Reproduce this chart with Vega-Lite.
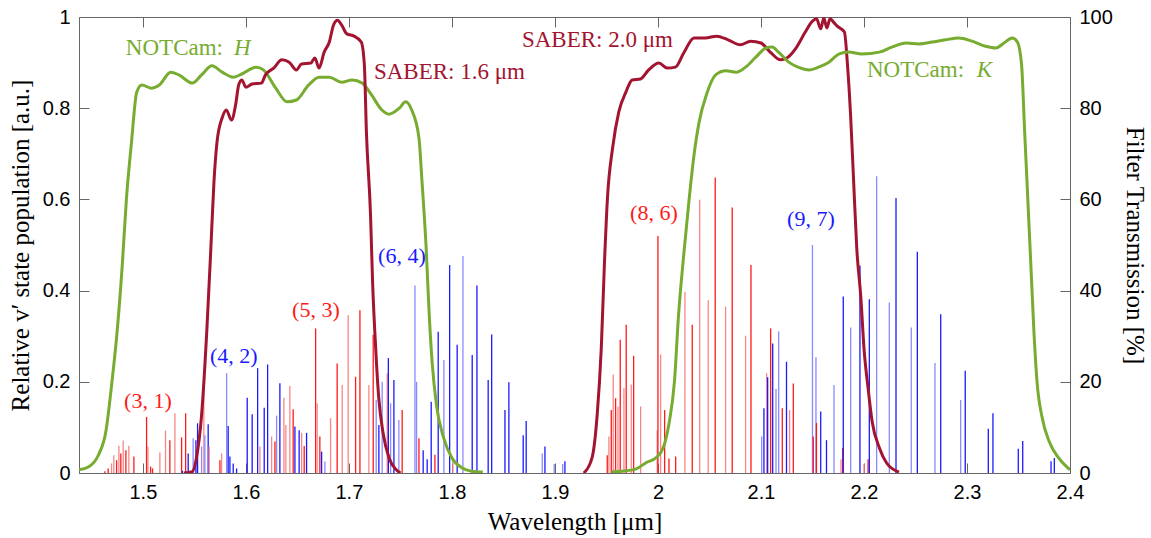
{
  "$schema": "https://vega.github.io/schema/vega-lite/v6.json",
  "width": 991,
  "height": 456,
  "autosize": {"type": "none"},
  "padding": {"left": 79, "top": 17, "right": 81, "bottom": 65},
  "background": "white",
  "config": {
    "view": {"stroke": "#666666", "strokeWidth": 1},
    "axis": {
      "domain": false, "grid": false, "ticks": true, "tickColor": "#666666", "tickSize": -10, "tickWidth": 1,
      "labelFont": "Liberation Sans", "labelFontSize": 20, "labelColor": "#000000", "labelPadding": 19, "labelFlush": false, "labelOverlap": false,
      "titleFont": "Liberation Serif", "titleFontSize": 25, "titleFontWeight": "normal", "titleColor": "#000000"
    }
  },
  "resolve": {"scale": {"x": "independent", "y": "independent"}},
  "layer": [
    {
      "encoding": {
        "x": {"field": "w", "type": "quantitative", "scale": {"domain": [1.438, 2.4], "nice": false, "zero": false},
              "axis": {"orient": "bottom", "values": [1.5,1.6,1.7,1.8,1.9,2.0,2.1,2.2,2.3,2.4], "format": "~g", "title": "Wavelength [μm]", "titlePadding": 7}},
        "y": {"field": "v", "type": "quantitative", "scale": {"domain": [0, 1], "nice": false, "zero": false},
              "axis": {"orient": "left", "values": [0,0.2,0.4,0.6,0.8,1], "format": "~g", "title": "Relative v′ state population [a.u.]", "titlePadding": 9}}
      },
      "layer": [
        {
          "data": {"values": [
            {"w":1.4631,"v":0.004,"t":"R"},{"w":1.4663,"v":0.010,"t":"R"},{"w":1.4696,"v":0.021,"t":"r"},{"w":1.4718,"v":0.039,"t":"r"},
            {"w":1.4745,"v":0.028,"t":"R"},{"w":1.4767,"v":0.060,"t":"r"},{"w":1.4786,"v":0.043,"t":"R"},{"w":1.4809,"v":0.071,"t":"r"},
            {"w":1.4835,"v":0.050,"t":"R"},{"w":1.4864,"v":0.060,"t":"r"},{"w":1.4913,"v":0.036,"t":"R"},{"w":1.5036,"v":0.123,"t":"R"},
            {"w":1.5049,"v":0.058,"t":"r"},{"w":1.5075,"v":0.014,"t":"R"},{"w":1.5094,"v":0.010,"t":"R"},{"w":1.5165,"v":0.045,"t":"r"},
            {"w":1.5220,"v":0.093,"t":"r"},{"w":1.5262,"v":0.072,"t":"R"},{"w":1.5311,"v":0.131,"t":"r"},{"w":1.5376,"v":0.078,"t":"R"},
            {"w":1.5415,"v":0.131,"t":"R"},{"w":1.5385,"v":0.005,"t":"B"},{"w":1.5440,"v":0.043,"t":"B"},{"w":1.5488,"v":0.076,"t":"b"},
            {"w":1.5515,"v":0.072,"t":"B"},{"w":1.5531,"v":0.109,"t":"B"},{"w":1.5570,"v":0.058,"t":"b"},{"w":1.5592,"v":0.224,"t":"r"},
            {"w":1.5602,"v":0.083,"t":"b"},{"w":1.5634,"v":0.107,"t":"B"},{"w":1.5644,"v":0.058,"t":"r"},{"w":1.5748,"v":0.028,"t":"R"},
            {"w":1.5764,"v":0.043,"t":"r"},{"w":1.5813,"v":0.219,"t":"b"},{"w":1.5828,"v":0.103,"t":"B"},{"w":1.5845,"v":0.036,"t":"B"},
            {"w":1.5877,"v":0.021,"t":"B"},{"w":1.5910,"v":0.010,"t":"B"},{"w":1.6013,"v":0.165,"t":"B"},{"w":1.6061,"v":0.129,"t":"B"},
            {"w":1.6114,"v":0.230,"t":"B"},{"w":1.6136,"v":0.058,"t":"r"},{"w":1.6178,"v":0.143,"t":"B"},{"w":1.6211,"v":0.238,"t":"B"},
            {"w":1.6250,"v":0.080,"t":"r"},{"w":1.6282,"v":0.069,"t":"R"},{"w":1.6298,"v":0.126,"t":"b"},{"w":1.6330,"v":0.197,"t":"B"},
            {"w":1.6369,"v":0.165,"t":"r"},{"w":1.6388,"v":0.105,"t":"r"},{"w":1.6427,"v":0.191,"t":"r"},{"w":1.6459,"v":0.140,"t":"R"},
            {"w":1.6476,"v":0.102,"t":"B"},{"w":1.6517,"v":0.094,"t":"B"},{"w":1.6541,"v":0.088,"t":"r"},{"w":1.6566,"v":0.059,"t":"R"},
            {"w":1.6589,"v":0.088,"t":"B"},{"w":1.6677,"v":0.317,"t":"R"},{"w":1.6692,"v":0.153,"t":"r"},{"w":1.6718,"v":0.080,"t":"R"},
            {"w":1.6735,"v":0.047,"t":"B"},{"w":1.6767,"v":0.025,"t":"b"},{"w":1.6822,"v":0.120,"t":"r"},{"w":1.6886,"v":0.240,"t":"R"},
            {"w":1.6935,"v":0.193,"t":"r"},{"w":1.6993,"v":0.346,"t":"r"},{"w":1.7065,"v":0.211,"t":"R"},{"w":1.7107,"v":0.357,"t":"R"},
            {"w":1.7194,"v":0.193,"t":"r"},{"w":1.7236,"v":0.303,"t":"R"},{"w":1.7265,"v":0.160,"t":"b"},{"w":1.7291,"v":0.105,"t":"B"},
            {"w":1.7323,"v":0.200,"t":"b"},{"w":1.7372,"v":0.219,"t":"r"},{"w":1.7383,"v":0.252,"t":"B"},{"w":1.7405,"v":0.153,"t":"b"},
            {"w":1.7437,"v":0.204,"t":"B"},{"w":1.7485,"v":0.116,"t":"b"},{"w":1.7517,"v":0.138,"t":"R"},{"w":1.7641,"v":0.411,"t":"b"},
            {"w":1.7657,"v":0.200,"t":"b"},{"w":1.7680,"v":0.076,"t":"R"},{"w":1.7721,"v":0.050,"t":"B"},{"w":1.7760,"v":0.030,"t":"B"},
            {"w":1.7799,"v":0.156,"t":"B"},{"w":1.7835,"v":0.040,"t":"R"},{"w":1.7867,"v":0.310,"t":"B"},{"w":1.7922,"v":0.248,"t":"b"},
            {"w":1.7978,"v":0.456,"t":"B"},{"w":1.8010,"v":0.028,"t":"r"},{"w":1.8051,"v":0.281,"t":"B"},{"w":1.8107,"v":0.476,"t":"b"},
            {"w":1.8197,"v":0.259,"t":"B"},{"w":1.8243,"v":0.411,"t":"B"},{"w":1.8352,"v":0.204,"t":"B"},{"w":1.8386,"v":0.304,"t":"B"},
            {"w":1.8515,"v":0.138,"t":"B"},{"w":1.8553,"v":0.199,"t":"B"},{"w":1.8692,"v":0.083,"t":"B"},{"w":1.8721,"v":0.114,"t":"B"},
            {"w":1.8877,"v":0.043,"t":"b"},{"w":1.8903,"v":0.058,"t":"B"},{"w":1.8993,"v":0.020,"t":"b"},{"w":1.9075,"v":0.020,"t":"b"},
            {"w":1.9097,"v":0.026,"t":"B"},
            {"w":1.9508,"v":0.039,"t":"R"},{"w":1.9524,"v":0.080,"t":"r"},{"w":1.9547,"v":0.138,"t":"R"},{"w":1.9566,"v":0.216,"t":"r"},
            {"w":1.9589,"v":0.164,"t":"R"},{"w":1.9612,"v":0.146,"t":"r"},{"w":1.9634,"v":0.292,"t":"R"},{"w":1.9670,"v":0.186,"t":"r"},
            {"w":1.9692,"v":0.325,"t":"R"},{"w":1.9741,"v":0.194,"t":"r"},{"w":1.9764,"v":0.257,"t":"R"},{"w":1.9832,"v":0.146,"t":"r"},
            {"w":1.9993,"v":0.094,"t":"r"},{"w":2.0000,"v":0.520,"t":"R"},{"w":2.0026,"v":0.260,"t":"r"},{"w":2.0065,"v":0.138,"t":"R"},
            {"w":2.0107,"v":0.032,"t":"R"},{"w":2.0172,"v":0.036,"t":"R"},{"w":2.0262,"v":0.397,"t":"r"},{"w":2.0333,"v":0.325,"t":"R"},
            {"w":2.0405,"v":0.599,"t":"r"},{"w":2.0488,"v":0.379,"t":"r"},{"w":2.0556,"v":0.648,"t":"R"},{"w":2.0657,"v":0.365,"t":"r"},
            {"w":2.0721,"v":0.582,"t":"R"},{"w":2.0851,"v":0.301,"t":"r"},{"w":2.0903,"v":0.456,"t":"R"},{"w":2.1007,"v":0.080,"t":"b"},
            {"w":2.1029,"v":0.142,"t":"B"},{"w":2.1055,"v":0.219,"t":"r"},{"w":2.1065,"v":0.210,"t":"B"},{"w":2.1094,"v":0.317,"t":"R"},
            {"w":2.1114,"v":0.284,"t":"B"},{"w":2.1146,"v":0.184,"t":"b"},{"w":2.1172,"v":0.311,"t":"b"},{"w":2.1207,"v":0.142,"t":"R"},
            {"w":2.1248,"v":0.244,"t":"B"},{"w":2.1278,"v":0.138,"t":"r"},{"w":2.1314,"v":0.196,"t":"R"},{"w":2.1500,"v":0.500,"t":"b"},
            {"w":2.1508,"v":0.080,"t":"R"},{"w":2.1534,"v":0.254,"t":"b"},{"w":2.1539,"v":0.110,"t":"R"},{"w":2.1580,"v":0.135,"t":"B"},
            {"w":2.1636,"v":0.072,"t":"B"},{"w":2.1709,"v":0.193,"t":"b"},{"w":2.1777,"v":0.030,"t":"r"},{"w":2.1793,"v":0.055,"t":"R"},
            {"w":2.1799,"v":0.387,"t":"B"},{"w":2.1871,"v":0.319,"t":"b"},{"w":2.1961,"v":0.455,"t":"B"},{"w":2.2000,"v":0.020,"t":"r"},
            {"w":2.2040,"v":0.030,"t":"R"},{"w":2.2052,"v":0.381,"t":"B"},{"w":2.2123,"v":0.651,"t":"b"},{"w":2.2246,"v":0.374,"t":"b"},
            {"w":2.2311,"v":0.603,"t":"B"},{"w":2.2459,"v":0.319,"t":"b"},{"w":2.2518,"v":0.485,"t":"B"},{"w":2.2689,"v":0.241,"t":"b"},
            {"w":2.2745,"v":0.348,"t":"B"},{"w":2.2939,"v":0.160,"t":"b"},{"w":2.2983,"v":0.224,"t":"B"},{"w":2.3207,"v":0.097,"t":"B"},
            {"w":2.3252,"v":0.131,"t":"B"},{"w":2.3498,"v":0.053,"t":"B"},{"w":2.3541,"v":0.070,"t":"B"},{"w":2.3816,"v":0.026,"t":"B"},
            {"w":2.3848,"v":0.033,"t":"B"}
          ]},
          "mark": {"type": "rule", "strokeWidth": 1.3},
          "encoding": {
            "y2": {"datum": 0},
            "color": {"field": "t", "type": "nominal", "legend": null,
                      "scale": {"domain": ["R","r","B","b","NOTCam","SABER"], "range": ["#ff1a1a","#f78787","#1a1aff","#8a8aff","#77ac30","#a2142f"]}}
          }
        },
        {
          "data": {"values": [
            {"w":1.4835,"v":0.932,"label":"NOTCam:","t":"NOTCam"},
            {"w":2.2029,"v":0.884,"label":"NOTCam:","t":"NOTCam"},
            {"w":1.7243,"v":0.879,"label":"SABER: 1.6 μm","t":"SABER"},
            {"w":1.8680,"v":0.950,"label":"SABER: 2.0 μm","t":"SABER"}
          ]},
          "mark": {"type": "text", "align": "left", "baseline": "middle", "font": "Liberation Serif", "fontSize": 23},
          "encoding": {
            "text": {"field": "label"},
            "color": {"field": "t", "type": "nominal", "legend": null,
                      "scale": {"domain": ["R","r","B","b","NOTCam","SABER"], "range": ["#ff1a1a","#f78787","#1a1aff","#8a8aff","#77ac30","#a2142f"]}}
          }
        },
        {
          "data": {"values": [
            {"w":1.5885,"v":0.932,"label":"H","t":"NOTCam"},
            {"w":2.3095,"v":0.884,"label":"K","t":"NOTCam"}
          ]},
          "mark": {"type": "text", "align": "left", "baseline": "middle", "font": "Liberation Serif", "fontSize": 23, "fontStyle": "italic"},
          "encoding": {
            "text": {"field": "label"},
            "color": {"field": "t", "type": "nominal", "legend": null,
                      "scale": {"domain": ["R","r","B","b","NOTCam","SABER"], "range": ["#ff1a1a","#f78787","#1a1aff","#8a8aff","#77ac30","#a2142f"]}}
          }
        },
        {
          "data": {"values": [
            {"w":1.5049,"v":0.158,"label":"(3, 1)","t":"R"},
            {"w":1.5883,"v":0.257,"label":"(4, 2)","t":"B"},
            {"w":1.6680,"v":0.357,"label":"(5, 3)","t":"R"},
            {"w":1.7515,"v":0.476,"label":"(6, 4)","t":"B"},
            {"w":1.9961,"v":0.570,"label":"(8, 6)","t":"R"},
            {"w":2.1485,"v":0.557,"label":"(9, 7)","t":"B"}
          ]},
          "mark": {"type": "text", "align": "center", "baseline": "middle", "font": "Liberation Serif", "fontSize": 22},
          "encoding": {
            "text": {"field": "label"},
            "color": {"field": "t", "type": "nominal", "legend": null,
                      "scale": {"domain": ["R","r","B","b","NOTCam","SABER"], "range": ["#ff1a1a","#f78787","#1a1aff","#8a8aff","#77ac30","#a2142f"]}}
          }
        }
      ]
    },
    {
      "data": {"values": [
        {"c":"H","t":"NOTCam","w":1.438,"v":0.7},{"c":"H","t":"NOTCam","w":1.447,"v":1.3},{"c":"H","t":"NOTCam","w":1.457,"v":4},
        {"c":"H","t":"NOTCam","w":1.464,"v":9},{"c":"H","t":"NOTCam","w":1.470,"v":20},{"c":"H","t":"NOTCam","w":1.475,"v":31},
        {"c":"H","t":"NOTCam","w":1.480,"v":45.6},{"c":"H","t":"NOTCam","w":1.484,"v":60},{"c":"H","t":"NOTCam","w":1.489,"v":72.6},
        {"c":"H","t":"NOTCam","w":1.494,"v":83.5},{"c":"H","t":"NOTCam","w":1.499,"v":85.1},{"c":"H","t":"NOTCam","w":1.508,"v":84.4},
        {"c":"H","t":"NOTCam","w":1.516,"v":85.1},{"c":"H","t":"NOTCam","w":1.527,"v":87.9},{"c":"H","t":"NOTCam","w":1.535,"v":87.3},
        {"c":"H","t":"NOTCam","w":1.548,"v":85.5},{"c":"H","t":"NOTCam","w":1.557,"v":87.3},{"c":"H","t":"NOTCam","w":1.567,"v":89.3},
        {"c":"H","t":"NOTCam","w":1.577,"v":87.9},{"c":"H","t":"NOTCam","w":1.588,"v":86.8},{"c":"H","t":"NOTCam","w":1.596,"v":87.5},
        {"c":"H","t":"NOTCam","w":1.610,"v":89.0},{"c":"H","t":"NOTCam","w":1.617,"v":88.4},{"c":"H","t":"NOTCam","w":1.629,"v":84.4},
        {"c":"H","t":"NOTCam","w":1.640,"v":81.4},{"c":"H","t":"NOTCam","w":1.649,"v":81.8},{"c":"H","t":"NOTCam","w":1.661,"v":85.1},
        {"c":"H","t":"NOTCam","w":1.671,"v":86.8},{"c":"H","t":"NOTCam","w":1.681,"v":86.8},{"c":"H","t":"NOTCam","w":1.693,"v":85.7},
        {"c":"H","t":"NOTCam","w":1.703,"v":86.2},{"c":"H","t":"NOTCam","w":1.713,"v":85.5},{"c":"H","t":"NOTCam","w":1.722,"v":82.9},
        {"c":"H","t":"NOTCam","w":1.732,"v":79.6},{"c":"H","t":"NOTCam","w":1.739,"v":78.7},{"c":"H","t":"NOTCam","w":1.749,"v":80.0},
        {"c":"H","t":"NOTCam","w":1.755,"v":81.4},{"c":"H","t":"NOTCam","w":1.761,"v":79.6},{"c":"H","t":"NOTCam","w":1.768,"v":73.5},
        {"c":"H","t":"NOTCam","w":1.771,"v":63.8},{"c":"H","t":"NOTCam","w":1.775,"v":49.3},{"c":"H","t":"NOTCam","w":1.778,"v":34.6},
        {"c":"H","t":"NOTCam","w":1.781,"v":23.7},{"c":"H","t":"NOTCam","w":1.785,"v":14.9},{"c":"H","t":"NOTCam","w":1.792,"v":7.7},
        {"c":"H","t":"NOTCam","w":1.800,"v":3.3},{"c":"H","t":"NOTCam","w":1.810,"v":1.1},{"c":"H","t":"NOTCam","w":1.819,"v":0.4},
        {"c":"H","t":"NOTCam","w":1.830,"v":0.2},
        {"c":"S16","t":"SABER","w":1.540,"v":0},{"c":"S16","t":"SABER","w":1.548,"v":0.3},{"c":"S16","t":"SABER","w":1.552,"v":3.3},
        {"c":"S16","t":"SABER","w":1.557,"v":12.7},{"c":"S16","t":"SABER","w":1.562,"v":30.9},{"c":"S16","t":"SABER","w":1.566,"v":49.3},
        {"c":"S16","t":"SABER","w":1.569,"v":63.8},{"c":"S16","t":"SABER","w":1.572,"v":72.6},{"c":"S16","t":"SABER","w":1.577,"v":77.9},
        {"c":"S16","t":"SABER","w":1.581,"v":79.6},{"c":"S16","t":"SABER","w":1.586,"v":77.4},{"c":"S16","t":"SABER","w":1.590,"v":80.7},
        {"c":"S16","t":"SABER","w":1.593,"v":85.1},{"c":"S16","t":"SABER","w":1.596,"v":86.2},{"c":"S16","t":"SABER","w":1.600,"v":84.6},
        {"c":"S16","t":"SABER","w":1.606,"v":85.3},{"c":"S16","t":"SABER","w":1.615,"v":85.5},{"c":"S16","t":"SABER","w":1.619,"v":87.3},
        {"c":"S16","t":"SABER","w":1.627,"v":88.8},{"c":"S16","t":"SABER","w":1.635,"v":90.6},{"c":"S16","t":"SABER","w":1.642,"v":90.1},
        {"c":"S16","t":"SABER","w":1.649,"v":88.4},{"c":"S16","t":"SABER","w":1.654,"v":89.7},{"c":"S16","t":"SABER","w":1.663,"v":89.9},
        {"c":"S16","t":"SABER","w":1.667,"v":91.0},{"c":"S16","t":"SABER","w":1.671,"v":88.8},{"c":"S16","t":"SABER","w":1.676,"v":92.3},
        {"c":"S16","t":"SABER","w":1.681,"v":94.5},{"c":"S16","t":"SABER","w":1.685,"v":98.2},{"c":"S16","t":"SABER","w":1.689,"v":99.3},
        {"c":"S16","t":"SABER","w":1.693,"v":98.2},{"c":"S16","t":"SABER","w":1.698,"v":96.3},{"c":"S16","t":"SABER","w":1.705,"v":95.8},
        {"c":"S16","t":"SABER","w":1.712,"v":94.5},{"c":"S16","t":"SABER","w":1.715,"v":89.5},{"c":"S16","t":"SABER","w":1.717,"v":74.8},
        {"c":"S16","t":"SABER","w":1.721,"v":56.6},{"c":"S16","t":"SABER","w":1.723,"v":41.9},{"c":"S16","t":"SABER","w":1.726,"v":27.4},
        {"c":"S16","t":"SABER","w":1.729,"v":16.4},{"c":"S16","t":"SABER","w":1.733,"v":9.0},{"c":"S16","t":"SABER","w":1.739,"v":3.3},
        {"c":"S16","t":"SABER","w":1.746,"v":0.7},{"c":"S16","t":"SABER","w":1.750,"v":0},
        {"c":"S20","t":"SABER","w":1.928,"v":0},{"c":"S20","t":"SABER","w":1.936,"v":3.3},{"c":"S20","t":"SABER","w":1.941,"v":12.7},
        {"c":"S20","t":"SABER","w":1.945,"v":27.4},{"c":"S20","t":"SABER","w":1.948,"v":45.6},{"c":"S20","t":"SABER","w":1.951,"v":60.3},
        {"c":"S20","t":"SABER","w":1.956,"v":71.3},{"c":"S20","t":"SABER","w":1.962,"v":79.2},{"c":"S20","t":"SABER","w":1.969,"v":83.6},
        {"c":"S20","t":"SABER","w":1.975,"v":86.2},{"c":"S20","t":"SABER","w":1.983,"v":86.4},{"c":"S20","t":"SABER","w":1.991,"v":88.4},
        {"c":"S20","t":"SABER","w":2.001,"v":89.9},{"c":"S20","t":"SABER","w":2.009,"v":88.8},{"c":"S20","t":"SABER","w":2.017,"v":89.0},
        {"c":"S20","t":"SABER","w":2.025,"v":92.1},{"c":"S20","t":"SABER","w":2.035,"v":95.4},{"c":"S20","t":"SABER","w":2.046,"v":95.4},
        {"c":"S20","t":"SABER","w":2.057,"v":95.8},{"c":"S20","t":"SABER","w":2.068,"v":95.0},{"c":"S20","t":"SABER","w":2.080,"v":93.9},
        {"c":"S20","t":"SABER","w":2.090,"v":94.7},{"c":"S20","t":"SABER","w":2.100,"v":94.3},{"c":"S20","t":"SABER","w":2.109,"v":92.3},
        {"c":"S20","t":"SABER","w":2.119,"v":90.6},{"c":"S20","t":"SABER","w":2.125,"v":91.0},{"c":"S20","t":"SABER","w":2.134,"v":93.2},
        {"c":"S20","t":"SABER","w":2.143,"v":96.7},{"c":"S20","t":"SABER","w":2.150,"v":99.1},{"c":"S20","t":"SABER","w":2.154,"v":99.6},
        {"c":"S20","t":"SABER","w":2.158,"v":97.4},{"c":"S20","t":"SABER","w":2.161,"v":99.8},{"c":"S20","t":"SABER","w":2.164,"v":97.6},
        {"c":"S20","t":"SABER","w":2.167,"v":99.6},{"c":"S20","t":"SABER","w":2.170,"v":99.0},{"c":"S20","t":"SABER","w":2.174,"v":98.0},
        {"c":"S20","t":"SABER","w":2.181,"v":96.7},{"c":"S20","t":"SABER","w":2.184,"v":89.5},{"c":"S20","t":"SABER","w":2.187,"v":78.5},
        {"c":"S20","t":"SABER","w":2.190,"v":63.8},{"c":"S20","t":"SABER","w":2.193,"v":49.3},{"c":"S20","t":"SABER","w":2.197,"v":38.4},
        {"c":"S20","t":"SABER","w":2.200,"v":27.4},{"c":"S20","t":"SABER","w":2.204,"v":18.6},{"c":"S20","t":"SABER","w":2.208,"v":11.2},
        {"c":"S20","t":"SABER","w":2.215,"v":5.5},{"c":"S20","t":"SABER","w":2.222,"v":2.2},{"c":"S20","t":"SABER","w":2.234,"v":0.2},
        {"c":"K","t":"NOTCam","w":1.955,"v":0.3},{"c":"K","t":"NOTCam","w":1.965,"v":0.4},{"c":"K","t":"NOTCam","w":1.979,"v":0.9},
        {"c":"K","t":"NOTCam","w":1.988,"v":2.2},{"c":"K","t":"NOTCam","w":1.999,"v":3.5},{"c":"K","t":"NOTCam","w":2.006,"v":6.1},
        {"c":"K","t":"NOTCam","w":2.011,"v":11.2},{"c":"K","t":"NOTCam","w":2.016,"v":20},{"c":"K","t":"NOTCam","w":2.020,"v":34.6},
        {"c":"K","t":"NOTCam","w":2.025,"v":47.8},{"c":"K","t":"NOTCam","w":2.030,"v":59.4},{"c":"K","t":"NOTCam","w":2.035,"v":69.7},
        {"c":"K","t":"NOTCam","w":2.040,"v":77.0},{"c":"K","t":"NOTCam","w":2.047,"v":82.9},{"c":"K","t":"NOTCam","w":2.056,"v":87.3},
        {"c":"K","t":"NOTCam","w":2.066,"v":88.2},{"c":"K","t":"NOTCam","w":2.076,"v":87.9},{"c":"K","t":"NOTCam","w":2.085,"v":89.0},
        {"c":"K","t":"NOTCam","w":2.095,"v":91.2},{"c":"K","t":"NOTCam","w":2.105,"v":93.2},{"c":"K","t":"NOTCam","w":2.111,"v":93.4},
        {"c":"K","t":"NOTCam","w":2.117,"v":92.3},{"c":"K","t":"NOTCam","w":2.127,"v":90.1},{"c":"K","t":"NOTCam","w":2.136,"v":89.0},
        {"c":"K","t":"NOTCam","w":2.147,"v":88.4},{"c":"K","t":"NOTCam","w":2.156,"v":89.0},{"c":"K","t":"NOTCam","w":2.166,"v":90.1},
        {"c":"K","t":"NOTCam","w":2.176,"v":91.9},{"c":"K","t":"NOTCam","w":2.185,"v":92.3},{"c":"K","t":"NOTCam","w":2.198,"v":91.9},
        {"c":"K","t":"NOTCam","w":2.215,"v":92.3},{"c":"K","t":"NOTCam","w":2.227,"v":93.4},{"c":"K","t":"NOTCam","w":2.241,"v":94.3},
        {"c":"K","t":"NOTCam","w":2.253,"v":94.1},{"c":"K","t":"NOTCam","w":2.266,"v":94.5},{"c":"K","t":"NOTCam","w":2.279,"v":95.0},
        {"c":"K","t":"NOTCam","w":2.292,"v":95.4},{"c":"K","t":"NOTCam","w":2.305,"v":94.7},{"c":"K","t":"NOTCam","w":2.318,"v":93.6},
        {"c":"K","t":"NOTCam","w":2.328,"v":93.2},{"c":"K","t":"NOTCam","w":2.336,"v":94.3},{"c":"K","t":"NOTCam","w":2.344,"v":95.4},
        {"c":"K","t":"NOTCam","w":2.349,"v":94.5},{"c":"K","t":"NOTCam","w":2.353,"v":89.5},{"c":"K","t":"NOTCam","w":2.356,"v":74.8},
        {"c":"K","t":"NOTCam","w":2.359,"v":60.3},{"c":"K","t":"NOTCam","w":2.362,"v":45.6},{"c":"K","t":"NOTCam","w":2.365,"v":30.9},
        {"c":"K","t":"NOTCam","w":2.368,"v":20},{"c":"K","t":"NOTCam","w":2.373,"v":12.1},{"c":"K","t":"NOTCam","w":2.380,"v":6.8},
        {"c":"K","t":"NOTCam","w":2.389,"v":3.3},{"c":"K","t":"NOTCam","w":2.400,"v":0.7}
      ]},
      "mark": {"type": "line", "strokeWidth": 3, "clip": true, "interpolate": "monotone"},
      "encoding": {
        "x": {"field": "w", "type": "quantitative", "scale": {"domain": [1.438, 2.4], "nice": false, "zero": false},
              "axis": {"orient": "top", "values": [1.5,1.6,1.7,1.8,1.9,2.0,2.1,2.2,2.3,2.4], "labels": false, "title": null}},
        "y": {"field": "v", "type": "quantitative", "scale": {"domain": [0, 100], "nice": false, "zero": false},
              "axis": {"orient": "right", "values": [0,20,40,60,80,100], "title": "Filter Transmission [%]", "titlePadding": 9}},
        "detail": {"field": "c", "type": "nominal"},
        "color": {"field": "t", "type": "nominal", "legend": null,
                  "scale": {"domain": ["R","r","B","b","NOTCam","SABER"], "range": ["#ff1a1a","#f78787","#1a1aff","#8a8aff","#77ac30","#a2142f"]}}
      }
    }
  ]
}
